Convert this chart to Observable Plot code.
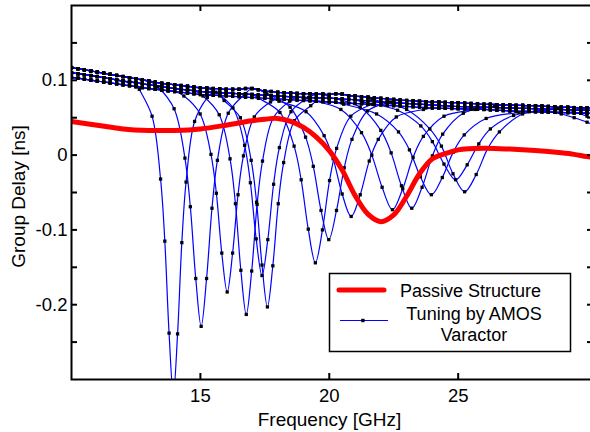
<!DOCTYPE html>
<html>
<head>
<meta charset="utf-8">
<script src="https://cdn.jsdelivr.net/npm/d3@7"></script>
<script src="https://cdn.jsdelivr.net/npm/@observablehq/plot@0.6"></script>
<style>
  html, body { margin: 0; padding: 0; background: white; overflow: hidden; }
  #chart { width: 590px; height: 432px; }
</style>
</head>
<body>
<div id="chart"></div>
<script>
// ---- data ----
const freqGrid = [
  10,10.25,10.5,10.75, 11,11.25,11.5,11.75, 12,12.25,12.5,12.75, 13,13.25,13.5,13.75,
  14,14.25,14.5,14.75, 15,15.25,15.5,15.75, 16,16.25,16.5,16.75, 17,17.25,17.5,17.75,
  18,18.25,18.5,18.75, 19,19.25,19.5,19.75, 20,20.25,20.5,20.75, 21,21.25,21.5,21.75,
  22,22.25,22.5,22.75, 23,23.25,23.5,23.75, 24,24.25,24.5,24.75, 25,25.25,25.5,25.75,
  26,26.25,26.5,26.75, 27,27.25,27.5,27.75, 28,28.25,28.5,28.75, 29,29.25,29.5,29.75,
  30,30.25,30.5];
const baseHi = [
  .117,.1155,.114,.1125, .111,.1095,.108,.1065, .105,.1035,.102,.1005, .099,.0975,.096,.095,
  .094,.093,.092,.091, .090,.0895,.089,.0885, .088,.088,.088,.089, .089,.0875,.0855,.085,
  .084,.0835,.083,.0825, .082,.082,.0815,.0815, .081,.082,.0815,.0795, .079,.078,.0775,.0765,
  .076,.075,.0745,.0735, .073,.0725,.072,.0715, .071,.071,.0705,.070, .070,.0695,.069,.0685,
  .068,.068,.0675,.067, .067,.0665,.0665,.066, .066,.0655,.065,.0645, .064,.064,.0635,.063,
  .063,.063,.063];
const baseMid = [
  .110,.1088,.1075,.1063, .105,.1035,.102,.1005, .099,.0978,.0965,.0953, .094,.0928,.0915,.0903,
  .089,.088,.087,.086, .085,.0845,.084,.0835, .083,.0825,.082,.0815, .081,.0805,.080,.0795,
  .079,.0785,.078,.0775, .077,.0768,.0765,.0763, .076,.0755,.075,.0745, .074,.0733,.0725,.0718,
  .071,.0705,.070,.0695, .069,.0685,.068,.0675, .067,.0665,.066,.0655, .065,.0648,.0645,.0643,
  .064,.0638,.0635,.0633, .063,.0628,.0625,.0623, .062,.0618,.0615,.0613, .061,.0608,.0605,.0603,
  .060,.060,.060];
const baseLo = [
  .104,.1028,.1015,.1003, .099,.0978,.0965,.0953, .094,.0928,.0915,.0903, .089,.088,.087,.086,
  .085,.084,.083,.082, .081,.0805,.080,.0795, .079,.0785,.078,.0775, .077,.0765,.076,.0755,
  .075,.0745,.074,.0735, .073,.0725,.072,.0715, .071,.0705,.070,.0695, .069,.0685,.068,.0675,
  .067,.0665,.066,.0655, .065,.0645,.064,.0635, .063,.0628,.0625,.0623, .062,.0618,.0615,.0613,
  .061,.0605,.060,.0595, .059,.0588,.0585,.0583, .058,.0578,.0575,.0573, .057,.0568,.0565,.0563,
  .056,.056,.056];

// resonance dips of the varactor-tuned curves: [frequency GHz, group delay ns]
const tuning1  = [[12.63,.088],[13.125,.052],[13.455,-.032],[13.62,-.115],[13.785,-.238],[13.95,-.32],[14.115,-.239],[14.28,-.117],[14.445,-.036],[14.775,.045],[15.27,.077]];
const tuning2  = [[13.35,.091],[13.98,.062],[14.40,-.004],[14.61,-.069],[14.82,-.165],[15.03,-.229],[15.24,-.165],[15.45,-.071],[15.66,-.007],[16.08,.056],[16.71,.081]];
const tuning3  = [[14.36,.079],[14.99,.055],[15.41,.001],[15.62,-.051],[15.83,-.131],[16.04,-.183],[16.25,-.131],[16.46,-.053],[16.67,-.001],[17.09,.051],[17.72,.071]];
const tuning4  = [[15.10,.079],[15.73,.054],[16.15,-.005],[16.36,-.065],[16.57,-.154],[16.78,-.213],[16.99,-.155],[17.20,-.066],[17.41,-.008],[17.83,.050],[18.46,.072]];
const tuning5  = [[15.59,.084],[16.265,.063],[16.715,.013],[16.94,-.037],[17.165,-.112],[17.39,-.161],[17.615,-.113],[17.84,-.039],[18.065,.010],[18.515,.058],[19.19,.077]];
const tuning6  = [[15.92,.073],[16.55,.050],[16.97,-.007],[17.18,-.063],[17.39,-.147],[17.6,-.203],[17.81,-.148],[18.02,-.065],[18.23,-.010],[18.65,.046],[19.28,.066]];
const tuning7  = [[17.26,.076],[18.085,.057],[18.635,.012],[18.91,-.033],[19.185,-.099],[19.46,-.144],[19.735,-.100],[20.01,-.034],[20.285,.009],[20.835,.052],[21.66,.068]];
const tuning8  = [[17.58,.082],[18.48,.064],[19.08,.024],[19.38,-.015],[19.68,-.074],[19.98,-.113],[20.28,-.074],[20.58,-.017],[20.88,.021],[21.48,.059],[22.38,.071]];
const tuning9  = [[18.05,.072],[19.1,.058],[19.8,.026],[20.15,-.005],[20.5,-.052],[20.85,-.082],[21.2,-.053],[21.55,-.008],[21.9,.021],[22.6,.051],[23.65,.061]];
const tuning10 = [[19.25,.074],[20.45,.061],[21.25,.030],[21.65,.000],[22.05,-.043],[22.45,-.073],[22.85,-.045],[23.25,-.003],[23.65,.025],[24.45,.052],[25.65,.061]];
const tuning11 = [[20.0,.078],[21.2,.064],[22.0,.033],[22.4,.003],[22.8,-.041],[23.2,-.071],[23.6,-.043],[24.0,-.001],[24.4,.028],[25.2,.056],[26.4,.065]];
const tuning12 = [[20.56,.068],[21.835,.055],[22.685,.031],[23.11,.007],[23.535,-.029],[23.96,-.053],[24.385,-.030],[24.81,.004],[25.235,.027],[26.085,.049],[27.36,.057]];
const tuning13 = [[21.3,.071],[22.65,.060],[23.55,.039],[24.0,.018],[24.45,-.012],[24.9,-.033],[25.35,-.013],[25.8,.015],[26.25,.035],[27.15,.053],[28.5,.060]];
const tuning14 = [[21.65,.075],[23.0,.061],[23.9,.035],[24.35,.012],[24.8,-.025],[25.25,-.049],[25.7,-.026],[26.15,.009],[26.6,.031],[27.5,.055],[28.85,.062]];
const tuning15 = [[28.5,.058],[29,.055],[29.5,.050],[30,.044],[30.5,.036]];
const tuning16 = [[29,.062],[29.5,.058],[30,.052],[30.5,.045]];

// passive structure (red)
const passiveF = [10,11,12,13,14,15,16,17,17.5,18,18.5,19,19.5,20,20.5,21,21.5,22,22.5,23,23.5,24,24.5,25,26,27,28,29,29.5,30,30.5];
const passiveY = [.045,.040,.035,.033,.033,.035,.040,.046,.048,.049,.045,.037,.024,.006,-.020,-.054,-.079,-.089,-.080,-.055,-.025,-.005,.002,.007,.009,.008,.006,.003,.001,-.002,-.004];

const xTickLabels = [15, 20, 25];
const yTickLabels = [-0.2, -0.1, 0, 0.1];
const yTickMarks = [-0.25, -0.2, -0.15, -0.1, -0.05, 0, 0.05, 0.1, 0.15];
const xDomain = [10, 30.25];
const yDomain = [-0.3, 0.2];

// ---- build tables ----
const curves = [
  [baseMid, tuning1], [baseHi, tuning2], [baseLo, tuning3], [baseMid, tuning4],
  [baseHi, tuning5], [baseLo, tuning6], [baseMid, tuning7], [baseHi, tuning8],
  [baseLo, tuning9], [baseMid, tuning10], [baseHi, tuning11], [baseLo, tuning12],
  [baseMid, tuning13], [baseHi, tuning14], [baseMid, tuning15], [baseHi, tuning16]
];
const rows = [];
curves.forEach(([base, dip], id) => {
  const lo = dip[0][0] - 0.12, hi = dip[dip.length - 1][0] + 0.12;
  const pts = [];
  freqGrid.forEach((f, j) => { if (f < lo || f > hi) pts.push({id, f, y: base[j]}); });
  dip.forEach(([f, y]) => pts.push({id, f, y}));
  pts.sort((a, b) => a.f - b.f);
  rows.push(...pts);
});
const passive = passiveF.map((f, i) => ({f, y: passiveY[i]}));

const W = 590, H = 432, mL = 71, mR = -3, mT = 5, mB = 53;
const frameW = W - mL - mR, frameH = H - mT - mB;
const tk = 6;
const FONT = "'Liberation Sans', Arial, Helvetica, sans-serif";

const chart = Plot.plot({
  width: W, height: H,
  marginLeft: mL, marginRight: mR, marginTop: mT, marginBottom: mB,
  x: {domain: xDomain},
  y: {domain: yDomain},
  style: {fontFamily: FONT, fontSize: "18px", background: "white", color: "black"},
  marks: [
    Plot.line(rows, {x: "f", y: "y", z: "id", stroke: "#0000ff", strokeWidth: 1.2, curve: "catmull-rom", clip: true}),
    Plot.dot(rows, {x: "f", y: "y", symbol: "square", r: 1.85, fill: "black", stroke: "none", clip: true}),
    Plot.line(passive, {x: "f", y: "y", stroke: "#ff0000", strokeWidth: 5, curve: "catmull-rom", clip: true}),
    Plot.tickX(xTickLabels, {x: d => d, insetTop: frameH - tk, stroke: "black", strokeWidth: 2}),
    Plot.tickX(xTickLabels, {x: d => d, insetBottom: frameH - tk, stroke: "black", strokeWidth: 2}),
    Plot.tickY(yTickMarks, {y: d => d, insetRight: frameW - tk, stroke: "black", strokeWidth: 2}),
    Plot.tickY(yTickMarks, {y: d => d, insetLeft: frameW - tk, stroke: "black", strokeWidth: 2}),
    Plot.frame({stroke: "black", strokeWidth: 2}),
    Plot.axisX(xTickLabels, {anchor: "bottom", tickSize: 0, tickPadding: 9, fontSize: 18.5, label: null}),
    Plot.axisY(yTickLabels, {anchor: "left", tickSize: 0, tickPadding: 4, fontSize: 18.5, label: null, tickFormat: d => String(d)}),
    Plot.text(["Frequency [GHz]"], {frameAnchor: "bottom", textAnchor: "middle", lineAnchor: "middle", dy: 40, dx: -3, fontSize: 19}),
    Plot.text(["Group Delay [ns]"], {frameAnchor: "left", textAnchor: "middle", lineAnchor: "middle", dx: -53, dy: 4, rotate: -90, fontSize: 19})
  ]
});
document.getElementById("chart").appendChild(chart);

// ---- legend box ----
const svg = d3.select(chart);
const lg = svg.append("g").attr("font-family", FONT).attr("font-size", 18).attr("text-anchor", "start").attr("fill", "black");
lg.append("rect").attr("x", 329.5).attr("y", 273.5).attr("width", 241).attr("height", 78)
  .attr("fill", "white").attr("stroke", "black").attr("stroke-width", 1.5);
lg.append("line").attr("x1", 339).attr("x2", 384).attr("y1", 290).attr("y2", 290)
  .attr("stroke", "#ff0000").attr("stroke-width", 5).attr("stroke-linecap", "round");
lg.append("text").attr("x", 400).attr("y", 296.5).attr("text-anchor", "start").text("Passive Structure");
lg.append("line").attr("x1", 340).attr("x2", 388).attr("y1", 320.5).attr("y2", 320.5)
  .attr("stroke", "#0000ff").attr("stroke-width", 1.2);
lg.append("rect").attr("x", 361.2).attr("y", 318.8).attr("width", 3.4).attr("height", 3.4).attr("fill", "black");
lg.append("text").attr("x", 474).attr("y", 319.5).attr("text-anchor", "middle").text("Tuning by AMOS");
lg.append("text").attr("x", 474).attr("y", 341).attr("text-anchor", "middle").text("Varactor");
</script>
</body>
</html>
